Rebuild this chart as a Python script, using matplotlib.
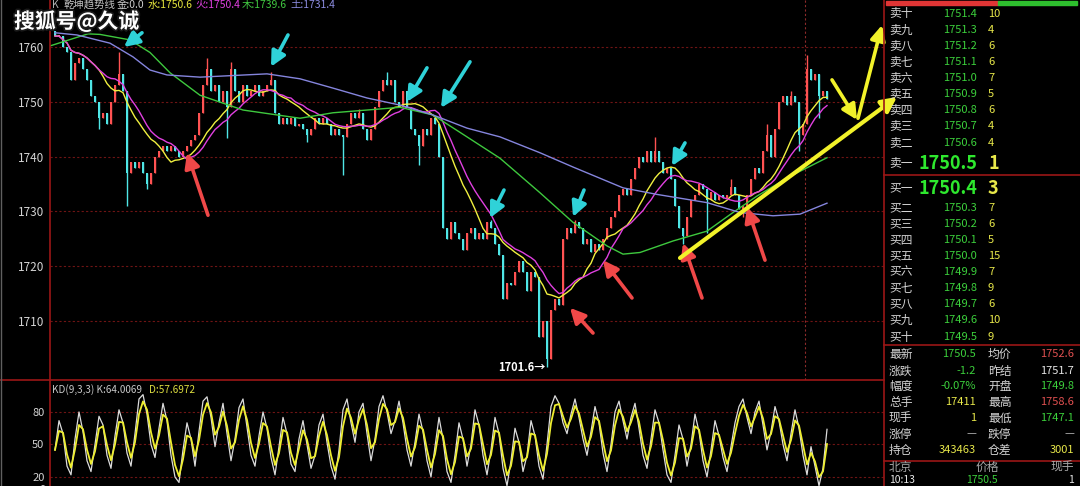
import numpy as np
import pandas as pd
import matplotlib
matplotlib.use('Agg')
import matplotlib.pyplot as plt
import matplotlib.patheffects as pe
from matplotlib.lines import Line2D
from matplotlib.patches import Rectangle

plt.rcParams['font.family'] = ['Noto Sans CJK SC', 'DejaVu Sans']

W, H = 1080, 486

# closing price of every bar left to right
closes = [
    1762, 1762, 1760, 1759, 1754, 1757, 1758, 1756, 1754, 1751,
    1750, 1747, 1748, 1746, 1750, 1753, 1755, 1752, 1737, 1739,
    1738, 1739, 1737, 1735, 1737, 1740, 1741, 1742, 1741, 1742,
    1741, 1740, 1741, 1742, 1743, 1744, 1748, 1753, 1756, 1752,
    1753, 1750, 1752, 1749, 1756, 1752, 1750, 1753, 1751, 1752,
    1753, 1751, 1752, 1753, 1754, 1748, 1746, 1747, 1746, 1747,
    1745.5, 1746, 1745, 1744, 1745, 1747, 1746, 1747, 1746, 1744,
    1745, 1744, 1743.5, 1746, 1748, 1747, 1748, 1745, 1743, 1745,
    1749, 1752, 1754, 1753, 1754, 1750, 1749, 1752, 1749, 1745,
    1744, 1742, 1745, 1744, 1747, 1746, 1740, 1727, 1725, 1728,
    1726, 1725, 1723, 1726, 1727, 1725, 1726, 1725, 1728, 1727,
    1724, 1722, 1714, 1717, 1716.5, 1719, 1721, 1719, 1715.5, 1719,
    1718, 1707, 1710, 1703, 1712, 1714, 1713, 1725, 1727, 1726,
    1728, 1727, 1724, 1725, 1722.5, 1724, 1723, 1725, 1727, 1729,
    1730, 1733, 1734, 1733, 1736, 1738, 1740, 1739, 1741, 1739,
    1741, 1739, 1737, 1738, 1736, 1731, 1727, 1725.5, 1729, 1732,
    1733, 1735, 1734, 1732, 1733.5, 1732, 1733, 1732.5, 1733, 1734.5,
    1733, 1730.5, 1731, 1733, 1736, 1738, 1737, 1741, 1744, 1740,
    1745, 1750, 1751, 1749.5, 1751, 1750, 1744, 1746, 1756, 1754,
    1755, 1751, 1752, 1750.5,
]
first_open = 1763.0

# bars whose wick reaches past the body: index -> (high, low)
spikes = {
    11: (None, 1745), 16: (1759, None), 18: (None, 1731), 23: (None, 1734),
    38: (1758, None), 43: (None, 1743.4), 44: (1757.2, None), 54: (1755.5, None),
    63: (None, 1742.6), 72: (None, 1736.7), 76: (1748.7, None), 83: (1755.4, None),
    91: (None, 1738.5), 109: (1728.5, None), 123: (None, 1701.6), 130: (1728.5, None),
    150: (1743.5, None), 157: (None, 1724), 163: (None, 1726), 169: (1736, None),
    172: (None, 1729), 178: (1746, None), 184: (1752, None), 186: (None, 1741),
    188: (1758.6, None), 191: (None, 1747.1),
}

# slow trend lines (bar index, price)
green_x = [-1.25, 8.25, 11.25, 18.75, 23.75, 28.75, 36.25, 47, 61.25, 69.5, 78, 86.25,
           94.5, 103, 111.25, 121.25, 129.5, 138, 142, 146.25, 154.5, 163, 169.5,
           175.5, 183.75, 193]
green_y = [1760.2, 1762.4, 1762.3, 1761.3, 1759, 1755.3, 1751.2, 1748.5, 1747, 1748,
           1748.5, 1749, 1747.6, 1743.6, 1739.7, 1733.4, 1728, 1723.7, 1722.2, 1722.5,
           1724.6, 1726.4, 1729.8, 1732.8, 1736.4, 1739.8]
purple_x = [0, 5.5, 13.75, 19.5, 23.75, 28, 36.25, 53, 61.25, 69.5, 78, 86.25, 94.5,
            103, 111.25, 121.25, 129.5, 142, 150.5, 163, 171.25, 179.5, 186.25, 193]
purple_y = [1762.6, 1762.2, 1760.7, 1758.2, 1755.8, 1754.9, 1754.5, 1755.1, 1754.2,
            1752.5, 1750.7, 1749.4, 1747.6, 1745.2, 1743.6, 1740.7, 1738.1, 1734.3,
            1733.1, 1731.6, 1729.8, 1729.2, 1729.5, 1731.5]

# KD panel, K value per bar
kd_k = [
    45, 72, 60, 30, 22, 55, 80, 62, 35, 25,
    50, 76, 68, 40, 28, 58, 82, 70, 42, 30,
    60, 92, 96, 78, 50, 38, 65, 88, 72, 40,
    20, 15, 45, 70, 55, 30, 62, 90, 94, 75,
    48, 70, 88, 60, 35, 55, 84, 92, 66, 40,
    30, 58, 80, 65, 38, 22, 48, 75, 60, 32,
    25, 55, 72, 50, 28, 40, 68, 78, 52, 30,
    18, 45, 82, 92, 70, 52, 80, 88, 60, 35,
    55, 85, 95, 80, 60, 72, 90, 70, 45, 30,
    52, 78, 62, 35, 20, 48, 75, 55, 25, 15,
    40, 70, 55, 30, 50, 82, 68, 40, 22, 45,
    75, 60, 28, 12, 35, 65, 52, 25, 40, 72,
    58, 30, 18, 50, 85, 95, 88, 70, 60, 78,
    92, 75, 55, 40, 62, 85, 70, 42, 25, 50,
    80, 90, 72, 55, 75, 88, 65, 40, 28, 55,
    82, 70, 45, 22, 15, 40, 68, 55, 30, 50,
    78, 62, 35, 20, 45, 72, 58, 38, 25, 48,
    70, 85, 92, 75, 60, 80, 90, 68, 45, 62,
    85, 72, 50, 35, 60, 82, 65, 40, 22, 48,
    30, 12, 28, 64,
]

# order book
ask_labels = ['卖十', '卖九', '卖八', '卖七', '卖六', '卖五', '卖四', '卖三', '卖二', '卖一']
ask_prices = ['1751.4', '1751.3', '1751.2', '1751.1', '1751.0', '1750.9', '1750.8',
              '1750.7', '1750.6', '1750.5']
ask_qty = ['10', '4', '6', '6', '7', '5', '6', '4', '4', '1']
bid_labels = ['买一', '买二', '买三', '买四', '买五', '买六', '买七', '买八', '买九', '买十']
bid_prices = ['1750.4', '1750.3', '1750.2', '1750.1', '1750.0', '1749.9', '1749.8',
              '1749.7', '1749.6', '1749.5']
bid_qty = ['3', '7', '6', '5', '15', '7', '9', '6', '10', '9']

stat_left = ['最新', '涨跌', '幅度', '总手', '现手', '涨停', '持仓']
stat_left_val = ['1750.5', '-1.2', '-0.07%', '17411', '1', '—', '343463']
stat_right = ['均价', '昨结', '开盘', '最高', '最低', '跌停', '仓差']
stat_right_val = ['1752.6', '1751.7', '1749.8', '1758.6', '1747.1', '—', '3001']

# colours
RED = '#ff5252'
CYAN = '#4fe6e6'
GRN = '#3cd03c'
YEL = '#e8e84a'
GRAY = '#d4d4d4'
FRAME = '#9a1616'
GRID = '#6e1414'


def fx(x):
    return x / W


def fy(y):
    return 1 - y / H


fig = plt.figure(figsize=(W / 100, H / 100), dpi=100, facecolor='black')

# ---------- price panel ----------
ax = fig.add_axes([fx(50), fy(380), 834 / W, 380 / H], facecolor='black')
c = np.array(closes, dtype=float)
o = np.r_[first_open, c[:-1]]
hi = np.maximum(o, c)
lo = np.minimum(o, c)
for i, (h, l) in spikes.items():
    if h is not None:
        hi[i] = h
    if l is not None:
        lo[i] = l
idx = np.arange(len(c))
cols = np.where(c >= o, RED, CYAN)

for lvl in [1710, 1720, 1730, 1740, 1750, 1760]:
    ax.axhline(lvl, color=GRID, lw=0.8, ls=(0, (2, 2)), zorder=0)
ax.axvline(187.5, color='#8c2a2a', lw=0.8, ls=(0, (2, 2)), zorder=0)

ax.vlines(idx, lo, hi, colors=cols, lw=1, zorder=2)
ax.bar(idx, np.maximum(np.abs(c - o), 0.15), bottom=np.minimum(o, c), width=0.55,
       color=cols, lw=0, zorder=3)

s = pd.Series(c)
ax.plot(idx, s.rolling(12, min_periods=1).mean(), color='#f0f040', lw=1, zorder=4)
ax.plot(idx, s.rolling(16, min_periods=1).mean(), color='#e040e0', lw=1, zorder=4)
ax.plot(green_x, green_y, color='#3ec83e', lw=1, zorder=4)
ax.plot(purple_x, purple_y, color='#8585dd', lw=1, zorder=4)

ax.text(122.6, 1701.6, '1701.6→', ha='right', va='center', color='white',
        fontsize=8, fontweight='bold', zorder=6)

ax.set_xlim(-1.25, 207.25)
ax.set_ylim(1699.23, 1768.58)
ax.set_xticks([])
ax.set_yticks([1710, 1720, 1730, 1740, 1750, 1760])
ax.tick_params(axis='y', length=0, pad=4, labelcolor=GRAY, labelsize=8.5)
for sp in ax.spines.values():
    sp.set_visible(False)


def arrow(p_tip, p_tail, color, lw=2.6):
    ax.annotate('', xy=p_tip, xytext=p_tail, annotation_clip=False,
                arrowprops=dict(arrowstyle='-|>,head_length=0.9,head_width=0.45',
                                color=color, lw=lw, shrinkA=0, shrinkB=0), zorder=7)


cyan_arrows = [((17.25, 1760.0), (21.75, 1762.6)), ((54, 1756.4), (58.25, 1762.2)),
               ((88, 1750.0), (93, 1756.2)), ((96.5, 1748.9), (103.75, 1757.3)),
               ((108.75, 1728.8), (112.25, 1733.9)), ((129.5, 1729.0), (132.25, 1733.9)),
               ((154.25, 1738.3), (157.5, 1742.5))]
red_arrows = [((33, 1740.7), (38.25, 1729.3)), ((128.75, 1712.4), (134.5, 1707.8)),
              ((137, 1721.1), (144.25, 1714.2)), ((157, 1724.2), (161.75, 1714.2)),
              ((173, 1730.8), (177.5, 1721.1))]
for tip, tail in cyan_arrows:
    arrow(tip, tail, '#2fd2d8')
for tip, tail in red_arrows:
    arrow(tip, tail, '#f04848')
arrow((210.5, 1750.9), (156.25, 1721.5), '#f2f22a', lw=3)
arrow((200.5, 1746.7), (194.25, 1754.0), '#f2f22a', lw=2.6)
arrow((206.75, 1764.0), (200.75, 1747.0), '#f2f22a', lw=2.6)

# ---------- KD panel ----------
kx = fig.add_axes([fx(50), 0, 834 / W, 106 / H], facecolor='black')
k = pd.Series(kd_k, dtype=float)
d = k.ewm(alpha=0.65, adjust=False).mean()
for lvl in [20, 50, 80]:
    kx.axhline(lvl, color=GRID, lw=0.8, ls=(0, (2, 2)), zorder=0)
kx.plot(idx, k, color='#dcdcdc', lw=0.9)
kx.plot(idx, d, color='#eeee30', lw=1.3)
kx.set_xlim(-1.25, 207.25)
kx.set_ylim(11.7, 109.5)
kx.set_xticks([])
kx.set_yticks([20, 50, 80])
kx.tick_params(axis='y', length=0, pad=4, labelcolor=GRAY, labelsize=8)
for sp in kx.spines.values():
    sp.set_visible(False)
fig.text(fx(46), fy(490), '0', ha='right', va='center', color=GRAY, fontsize=8)
fig.text(fx(52), fy(390), 'KD(9,3,3) K:64.0069', color='#c8c8c8', fontsize=7.2, va='center')
fig.text(fx(149), fy(390), 'D:57.6972', color='#dede40', fontsize=7.2, va='center')

# ---------- header and watermark ----------
header = [('K', 52, '#b0b0b0'), ('乾坤趋势线', 64, '#c0c0c0'), ('金:0.0', 117, '#d0d0d0'),
          ('水:1750.6', 148, '#e6e63c'), ('火:1750.4', 195, '#e040e0'),
          ('木:1739.6', 242, '#40c840'), ('土:1731.4', 290, '#8c8ce0')]
for txt, x, col in header:
    fig.text(fx(x), fy(5), txt, color=col, fontsize=7.5, va='center')
fig.text(fx(14), fy(21), '搜狐号@久诚', color='white', fontsize=15, fontweight='bold',
         va='center', path_effects=[pe.withStroke(linewidth=2.5, foreground='#1a1a1a')])

# ---------- frame lines ----------
frame = [((50, 50), (0, 486)), ((0, 884), (380, 380)), ((884, 884), (0, 486)),
         ((884, 1080), (175, 175)), ((884, 1080), (345, 345)), ((884, 1080), (461, 461))]
for xs, ys in frame:
    fig.add_artist(Line2D([fx(v) for v in xs], [fy(v) for v in ys], color=FRAME, lw=1.2))
fig.add_artist(Line2D([fx(1), fx(1)], [0, 1], color='#606060', lw=1))

# ---------- order book ----------
fig.add_artist(Rectangle((fx(886), fy(5)), (998 - 886) / W, 4 / H, color='#e03535',
                         transform=fig.transFigure))
fig.add_artist(Rectangle((fx(998), fy(5)), (1077 - 998) / W, 4 / H, color='#2ec02e',
                         transform=fig.transFigure))

ask_y = [14, 30, 46, 62, 78, 94, 110, 126, 143, 163]
bid_y = [188, 208, 224, 240, 256, 272, 288, 304, 320, 337]
for labels, prices, qty, ys, big in [(ask_labels, ask_prices, ask_qty, ask_y, 9),
                                     (bid_labels, bid_prices, bid_qty, bid_y, 0)]:
    for j, (lab, pr, q, y) in enumerate(zip(labels, prices, qty, ys)):
        large = j == big
        fig.text(fx(889), fy(y), lab, color=GRAY, fontsize=8.5, va='center')
        fig.text(fx(977), fy(y), pr, color='#2ee82e' if large else GRN,
                 fontsize=13 if large else 8, fontweight='bold' if large else 'normal',
                 ha='right', va='center')
        fig.text(fx(988), fy(y), q, color=YEL, fontsize=13 if large else 8,
                 fontweight='bold' if large else 'normal', va='center')

stat_y = [354, 371, 386, 402, 418, 434, 450]
left_cols = [GRN, GRN, GRN, YEL, YEL, '#b0b0b0', YEL]
right_cols = ['#e05050', '#e8e8e8', GRN, '#e05050', GRN, '#b0b0b0', YEL]
for j, y in enumerate(stat_y):
    fig.text(fx(889), fy(y), stat_left[j], color=GRAY, fontsize=8.5, va='center')
    fig.text(fx(976), fy(y), stat_left_val[j], color=left_cols[j], fontsize=8,
             ha='right', va='center')
    fig.text(fx(988), fy(y), stat_right[j], color=GRAY, fontsize=8.5, va='center')
    fig.text(fx(1074), fy(y), stat_right_val[j], color=right_cols[j], fontsize=8,
             ha='right', va='center')

fig.text(fx(889), fy(467), '北京', color='#a8a8a8', fontsize=8.5, va='center')
fig.text(fx(987), fy(467), '价格', color='#a8a8a8', fontsize=8.5, ha='center', va='center')
fig.text(fx(1074), fy(467), '现手', color='#a8a8a8', fontsize=8.5, ha='right', va='center')
fig.text(fx(889), fy(480), '10:13', color='#e8e8e8', fontsize=7.5, va='center')
fig.text(fx(998), fy(480), '1750.5', color=GRN, fontsize=7.5, ha='right', va='center')
fig.text(fx(1074), fy(480), '1', color='#e8e8e8', fontsize=7.5, ha='right', va='center')

fig.savefig('out.png', dpi=100, facecolor='black')
